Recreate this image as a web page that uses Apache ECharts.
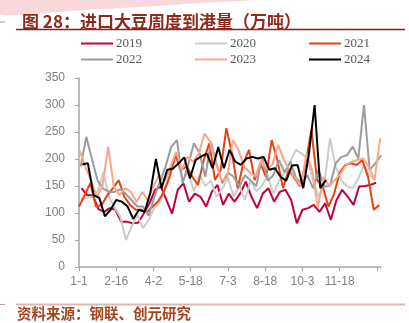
<!DOCTYPE html>
<html><head><meta charset="utf-8">
<script src="https://cdn.jsdelivr.net/npm/echarts@6.0.0/dist/echarts.min.js"></script>
<style>html,body{margin:0;padding:0;background:#fff}#c{width:409px;height:323px}</style>
</head><body><div id="c"></div>
<script>
// Weekly arrivals (万吨), one value per week; first week's day-of-year offset in startDay
const years = ['2019','2020','2021','2022','2023','2024'];
const startDay = [3, 2, 0, 2, 1, 4];
const v2019 = [146,133,133,107,102,109,106,84,84,81,82,99,118,143,149,124,99,143,155,121,136,130,112,139,152,115,136,121,136,158,130,109,136,146,121,139,143,124,81,106,109,115,102,118,87,124,143,130,115,149,150,152,156];
const v2020 = [125,128,130,140,175,130,110,93,50,75,96,72,87,110,120,150,185,200,160,175,140,170,150,160,130,145,165,130,150,125,160,140,150,170,135,160,175,195,217,210,201,160,130,155,238,186,161,149,146,164,189,170,161];
const v2021 = [112,133,155,112,115,133,146,161,130,115,106,106,102,112,122,140,167,207,180,186,167,152,198,229,161,180,257,210,146,192,217,161,192,167,235,198,146,180,165,149,192,255,161,149,112,135,175,189,192,189,198,167,106,115];
const v2022 = [186,241,200,160,145,139,139,144,135,124,112,112,95,130,158,186,223,235,155,190,229,210,167,232,190,155,175,167,149,170,160,150,204,160,170,198,175,195,165,155,170,146,180,149,150,192,204,207,223,201,300,180,192,207];
const v2023 = [215,185,160,130,150,223,149,133,146,139,121,139,124,150,170,160,186,213,180,204,195,210,247,232,192,161,165,235,217,186,175,167,198,180,190,226,198,180,165,149,210,180,110,167,150,161,173,189,195,198,201,186,161,238];
const v2024 = [190,192,133,128,94,106,124,121,112,89,106,102,137,200,146,180,182,192,203,164,198,205,210,183,222,183,217,195,189,201,204,201,204,180,183,167,160,188,189,146,210,300,146,161];
const tickLabels = ['1-1','2-16','4-2','5-18','7-3','8-18','10-3','11-18'];
const tickStepDays = 46;
const yTicks = [0,50,100,150,200,250,300,350];

const allValues = [v2019, v2020, v2021, v2022, v2023, v2024];
const colors = ['#C4003A','#CCCCCC','#E8420E','#9B9B9B','#F8A78C','#000000'];

const tickDays = [];
for (let i = 0; i <= tickLabels.length; i++) tickDays.push(i * tickStepDays);
const labelDays = tickDays.slice(0, tickLabels.length);

const series = years.map((y, k) => ({
  name: y, type: 'line', symbol: 'none', clip: true,
  lineStyle: {width: 2, color: colors[k]}, itemStyle: {color: colors[k]},
  data: allValues[k].map((v, i) => [startDay[k] + 7 * i, v])
}));

const legendBase = {
  orient: 'horizontal', itemWidth: 32, itemHeight: 2, itemGap: 53, icon: 'rect', padding: 0,
  textStyle: {fontFamily: 'Liberation Serif', fontSize: 13, color: '#595959', padding: [0,0,0,-2]}
};

const chart = echarts.init(document.getElementById('c'), null, {renderer: 'canvas'});
chart.setOption({
  animation: false,
  backgroundColor: '#fff',
  title: {
    text: '图 28：进口大豆周度到港量（万吨）', left: 17, top: 8,
    textStyle: {fontFamily: 'Noto Sans CJK SC', fontSize: 17, fontWeight: 'bold', color: '#8E2A1B'}
  },
  legend: [
    Object.assign({}, legendBase, {data: years.slice(0, 3), left: 81, top: 37}),
    Object.assign({}, legendBase, {data: years.slice(3), left: 81, top: 53})
  ],
  graphic: [
    {type: 'polygon', z: -10, silent: true,
     shape: {points: [[0,0],[255,0],[200,3],[140,7],[70,11],[0,15]], smooth: 0.2},
     style: {fill: '#F9D8DC'}},
    {type: 'line', shape: {x1: 0, y1: 22, x2: 5, y2: 22}, style: {stroke: '#9B9B9B', lineWidth: 1}},
    {type: 'line', shape: {x1: 16, y1: 29.5, x2: 405, y2: 29.5}, style: {stroke: '#8B1D1D', lineWidth: 1.5}},
    {type: 'line', shape: {x1: 0, y1: 304.5, x2: 5, y2: 304.5}, style: {stroke: '#C9A0A0', lineWidth: 1}},
    {type: 'line', shape: {x1: 16, y1: 304.5, x2: 405, y2: 304.5}, style: {stroke: '#E2B5B5', lineWidth: 2}},
    {type: 'text', left: 17, top: 306,
     style: {text: '资料来源：钢联、创元研究', font: 'bold 14.5px "Noto Sans CJK SC"', fill: '#A4441E'}}
  ],
  grid: {left: 79, right: 28, top: 78, bottom: 56, containLabel: false},
  xAxis: {
    type: 'value', min: 0, max: 373, interval: tickStepDays,
    splitLine: {show: false},
    axisLine: {show: true, lineStyle: {color: '#A6A6A6', width: 1.5}},
    axisTick: {show: true, length: 4, customValues: tickDays, lineStyle: {color: '#A6A6A6'}},
    axisLabel: {customValues: labelDays, margin: 9, fontFamily: 'Liberation Sans', fontSize: 12, color: '#7F7F7F',
      formatter: v => tickLabels[Math.round(v / tickStepDays)] || ''}
  },
  yAxis: {
    type: 'value', min: yTicks[0], max: yTicks[yTicks.length - 1], interval: 50,
    splitLine: {show: false},
    axisLine: {show: true, lineStyle: {color: '#A6A6A6', width: 1.5}},
    axisTick: {show: true, length: 4, lineStyle: {color: '#A6A6A6'}},
    axisLabel: {margin: 14, fontFamily: 'Liberation Sans', fontSize: 12, color: '#7F7F7F'}
  },
  series: series
});
</script></body></html>
